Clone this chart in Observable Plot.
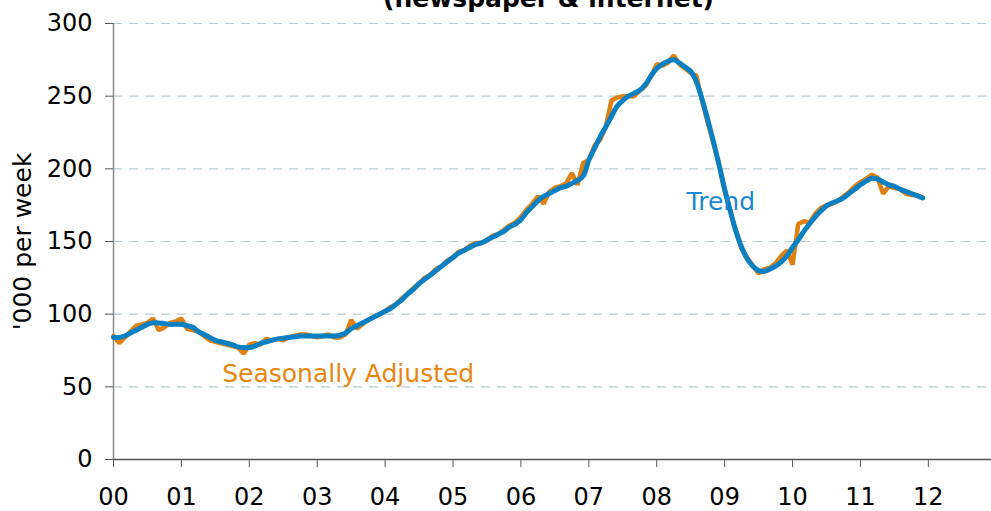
<!DOCTYPE html>
<html>
<head>
<meta charset="utf-8">
<script src="https://cdn.jsdelivr.net/npm/d3@7"></script>
<script src="https://cdn.jsdelivr.net/npm/@observablehq/plot@0.6"></script>
<style>
  html, body { margin: 0; padding: 0; background: #fff; overflow: hidden; }
  #chart { width: 991px; height: 511px; }
</style>
</head>
<body>
<div id="chart"></div>
<script>
const title = "(newspaper & internet)";
const yLabel = "'000 per week";
const yearLabels = ["00","01","02","03","04","05","06","07","08","09","10","11","12"];
const yTicks = [0, 50, 100, 150, 200, 250, 300];

// Monthly values, Jan 2000 – Dec 2011 ('000 per week)
const seasonallyAdjusted = [
  85, 80, 84, 88, 92, 93, 94, 97, 89, 91, 94, 95,            // 2000
  97, 90, 89, 88, 85, 82, 81, 80, 79, 78, 77, 73,            // 2001
  79, 80, 79, 83, 82, 83, 82, 84, 85, 86, 86, 85,            // 2002
  84, 85, 86, 84, 84, 86, 96, 90, 93, 96, 98, 100,           // 2003
  102, 105, 107, 111, 114, 118, 121, 125, 127, 131, 133, 137, // 2004
  139, 143, 144, 147, 149, 149, 151, 154, 155, 158, 161, 163, // 2005
  167, 172, 176, 181, 176, 184, 187, 188, 190, 197, 189, 204, // 2006
  206, 216, 220, 229, 247, 249, 250, 250, 250, 254, 257, 264, // 2007
  272, 271, 273, 278, 272, 269, 266, 264, 247, 232, 218, 203, // 2008
  185, 171, 157, 145, 139, 133, 128, 131, 132, 135, 140, 144, // 2009
  134, 162, 164, 163, 169, 173, 175, 176, 178, 181, 184, 188, // 2010
  191, 193, 196, 194, 183, 188, 187, 186, 183, 182, 182, 180  // 2011
];
const trend = [
  84, 84, 85, 87, 89, 91, 93, 94, 94, 93.5, 93, 93,
  93, 92, 91, 88, 86, 84, 82, 81, 80, 79, 77.5, 77,
  77, 78, 80, 81, 82, 83, 83.5, 84, 84.5, 85, 85, 85,
  85, 85, 85, 85, 85.5, 87, 90, 92, 94, 96, 98, 100,
  102, 104, 107, 110, 114, 117, 121, 124, 127, 130, 133, 136,
  139, 142, 144, 146, 148, 149, 151, 153, 155, 157, 160, 162,
  165, 170, 174, 178, 181, 183, 185, 187, 188, 190, 192, 195,
  206, 214, 222, 229, 236, 243, 247, 250, 252, 254, 258, 264,
  269, 272, 274, 275, 273, 270, 267, 260, 248, 234, 219, 203,
  186, 171, 157, 146, 138, 133, 130, 129.5, 131, 133, 136, 140,
  146, 151, 157, 162, 167, 171, 174.5, 176.5, 178, 180, 183, 186,
  189, 191.5, 193.5, 193, 191, 189, 188, 186, 184.5, 183, 181.5, 180
];

const saRows = seasonallyAdjusted.map((v, i) => ({t: i / 12, v}));
const trRows = trend.map((v, i) => ({t: i / 12, v}));
const labelRows = [
  {t: 1.6, v: 58.5, text: "Seasonally Adjusted", color: "#e8850f"},
  {t: 8.44, v: 177, text: "Trend", color: "#1b88d2"}
];

const chart = Plot.plot({
  width: 991,
  height: 511,
  marginLeft: 113,
  marginRight: 0,
  marginTop: 23,
  marginBottom: 52,
  style: {fontFamily: "'DejaVu Sans', Verdana, sans-serif", fontSize: "24px", color: "#000", background: "#fff", overflow: "visible"},
  x: {domain: [0, 12.93]},
  y: {domain: [0, 300]},
  marks: [
    Plot.ruleY(yTicks.filter(d => d > 0), {stroke: "#b5cbd7", strokeWidth: 1.2, strokeDasharray: "9,7"}),
    Plot.ruleX([0], {stroke: "#8a8a8a", strokeWidth: 1.5}),
    Plot.ruleY([0], {stroke: "#555", strokeWidth: 1.5}),
    Plot.axisY({ticks: yTicks, tickSize: 8, tickPadding: 13, label: null, fontSize: 24, stroke: "#555"}),
    Plot.axisX({ticks: d3.range(0, 13), tickFormat: d => yearLabels[d], tickSize: 8, tickPadding: 20, label: null, fontSize: 24, stroke: "#555"}),
    Plot.line(saRows, {x: "t", y: "v", stroke: "#e07f12", strokeWidth: 4.5, strokeLinejoin: "miter"}),
    Plot.line(trRows, {x: "t", y: "v", stroke: "#0a7fc1", strokeWidth: 5, curve: "catmull-rom"}),
    Plot.text(labelRows, {x: "t", y: "v", text: "text", fill: "color", textAnchor: "start", fontSize: 25}),
    Plot.text([yLabel], {frameAnchor: "left", dx: -91, rotate: -90, textAnchor: "middle", lineAnchor: "middle", fontSize: 25}),
    Plot.text([title], {frameAnchor: "top", dx: -4, dy: -25, textAnchor: "middle", lineAnchor: "middle", fontSize: 25, fontWeight: "bold"})
  ]
});
document.getElementById("chart").appendChild(chart);
</script>
</body>
</html>
